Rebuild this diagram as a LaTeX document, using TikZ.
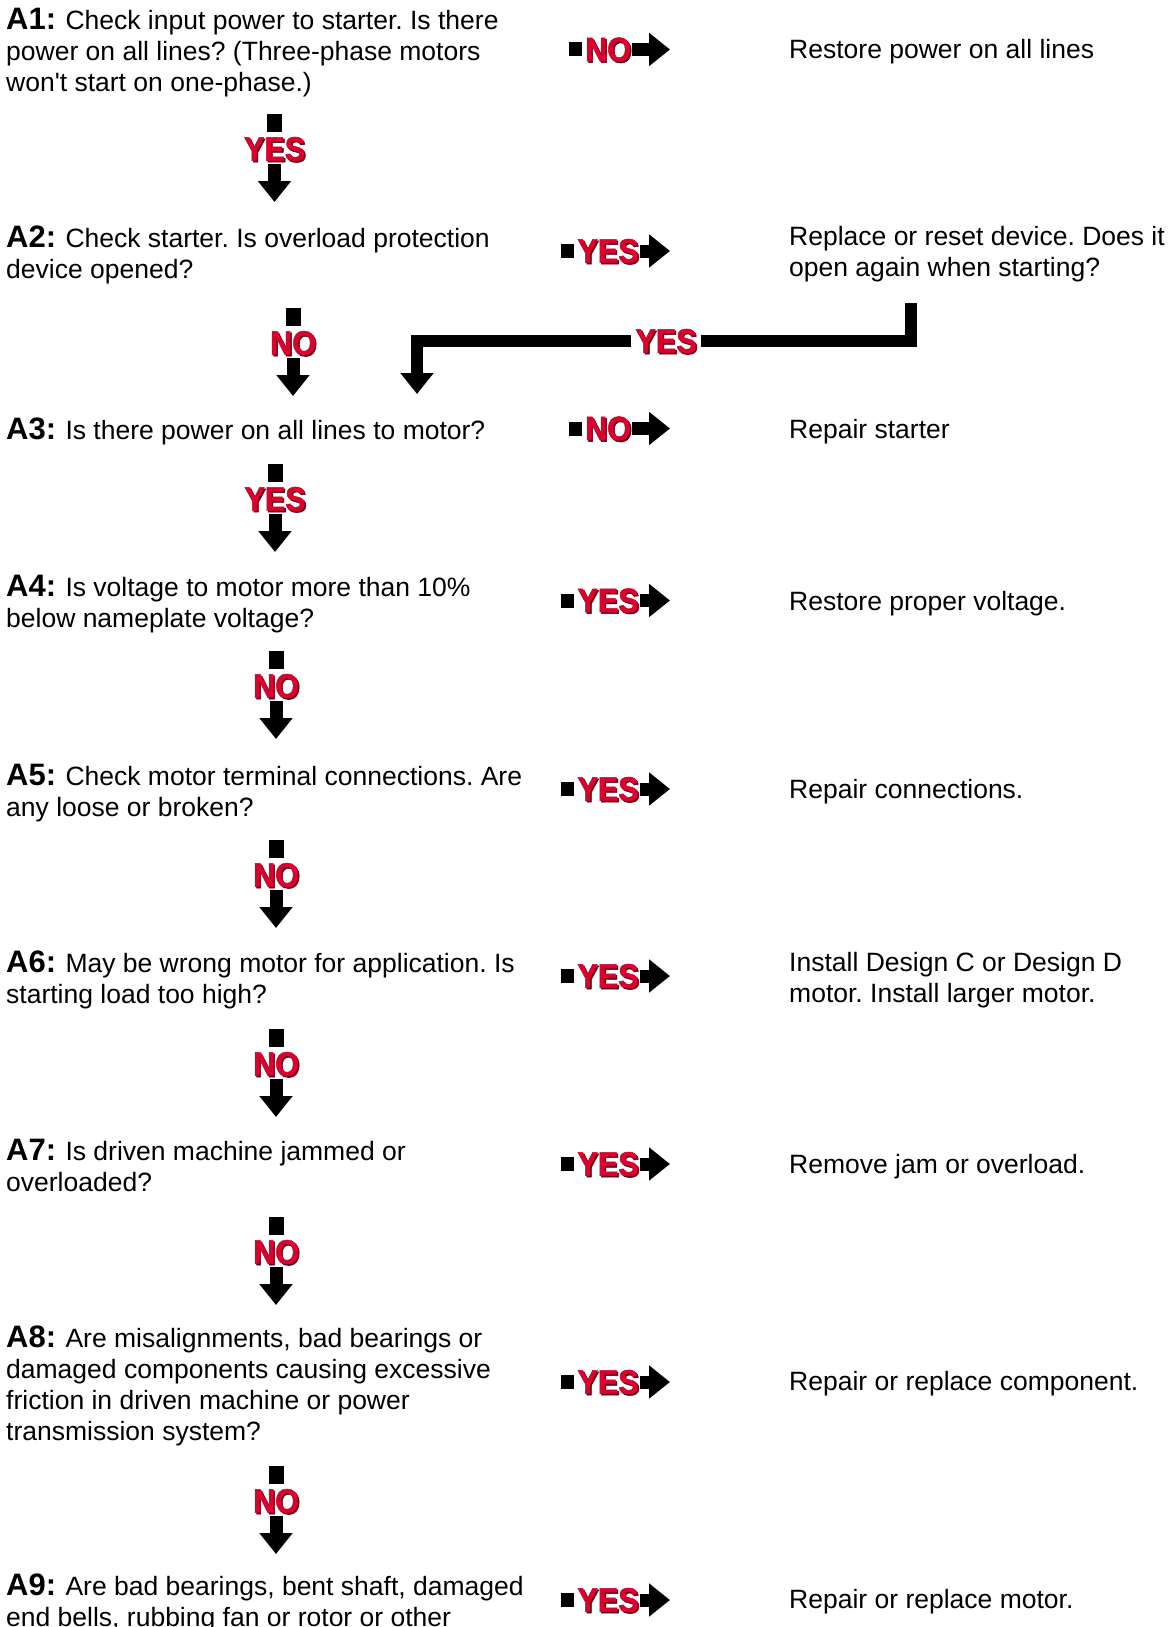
\documentclass[tikz,border=0pt]{standalone}
\usepackage{fontspec}
\setmainfont{Liberation Sans}
\newfontfamily\labfont{Liberation Sans}[FakeStretch=0.9,FakeBold=1.5]
\usetikzlibrary{arrows.meta}
\definecolor{signred}{RGB}{220,0,45}
\definecolor{signdark}{RGB}{80,0,25}
\frenchspacing
\newcommand{\qlab}[1]{\rule{0pt}{22pt}{\bfseries\fontsize{31}{31}\selectfont #1}\hspace{2pt}}
\newcommand{\topstrut}{\rule{0pt}{22pt}}
% side arrow: name, label, centre y
\newcommand{\rtarrow}[3]{%
  \node[labshadow] at (609.5,#3+1.5) {#2};
  \node[lab] (#1) at (608,#3) {#2};
  \fill ([xshift=-3pt,yshift=7pt]#1.west) rectangle ++(-13pt,-14pt);
  \coordinate (#1tip) at (670,#3);
  \draw[fat] ([xshift=1pt]#1.east) -- (#1tip);
}
% down arrow: name, label, centre x, top y
\newcommand{\dnarrow}[4]{%
  \fill (#3-7.5,#4) rectangle (#3+7.5,#4+18);
  \node[labshadow] at (#3+1.5,#4+36.5) {#2};
  \node[lab] (#1) at (#3,#4+35) {#2};
  \coordinate (#1tip) at (#3,#4+88);
  \draw[fat] ([yshift=-3pt]#1.south) -- (#1tip);
}
\begin{document}
\begin{tikzpicture}[x=1pt, y=-1pt,
    question/.style={anchor=north west, inner sep=0pt, align=left, font=\fontsize{26.5}{31}\selectfont},
    answer/.style={question},
    lab/.style={inner sep=0pt, text=signred, font=\labfont\bfseries\fontsize{34}{34}\selectfont},
    labshadow/.style={lab, text=signdark},
    fat/.style={line width=13pt, -{Triangle[width=32pt,length=21pt]}},
    fatline/.style={line width=12pt, line join=miter}
  ]
  \path[use as bounding box, clip] (0,0) rectangle (1170,1627);
  % Questions
  \node[question] (a1) at (6,7) {\qlab{A1:} Check input power to starter. Is there\\
    power on all lines? (Three-phase motors\\won\textquotesingle t start on one-phase.)};
  \node[question] (a2) at (6,225) {\qlab{A2:} Check starter. Is overload protection\\device opened?};
  \node[question] (a3) at (6,417) {\qlab{A3:} Is there power on all lines to motor?};
  \node[question] (a4) at (6,574) {\qlab{A4:} Is voltage to motor more than 10\%\\below nameplate voltage?};
  \node[question] (a5) at (6,763) {\qlab{A5:} Check motor terminal connections. Are\\any loose or broken?};
  \node[question] (a6) at (6,950) {\qlab{A6:} May be wrong motor for application. Is\\starting load too high?};
  \node[question] (a7) at (6,1138) {\qlab{A7:} Is driven machine jammed or\\overloaded?};
  \node[question] (a8) at (6,1325) {\qlab{A8:} Are misalignments, bad bearings or\\
    damaged components causing excessive\\friction in driven machine or power\\transmission system?};
  \node[question] (a9) at (6,1573) {\qlab{A9:} Are bad bearings, bent shaft, damaged\\end bells, rubbing fan or rotor or other};
  % Remedies
  \node[answer] (r1) at (789,36.5) {\topstrut Restore power on all lines};
  \node[answer] (r2) at (789,223) {\topstrut Replace or reset device. Does it\\open again when starting?};
  \node[answer] (r3) at (789,416.5) {\topstrut Repair starter};
  \node[answer] (r4) at (789,588) {\topstrut Restore proper voltage.};
  \node[answer] (r5) at (789,776) {\topstrut Repair connections.};
  \node[answer] (r6) at (789,949) {\topstrut Install Design C or Design D\\motor. Install larger motor.};
  \node[answer] (r7) at (789,1151) {\topstrut Remove jam or overload.};
  \node[answer] (r8) at (789,1368) {\topstrut Repair or replace component.};
  \node[answer] (r9) at (789,1586) {\topstrut Repair or replace motor.};
  % Arrows
  \rtarrow{side1}{NO}{49.5}
  \dnarrow{down1}{YES}{274.5}{114}
  \rtarrow{side2}{YES}{251}
  \dnarrow{down2}{NO}{293}{308}
  \rtarrow{side3}{NO}{428.5}
  \dnarrow{down3}{YES}{275}{464}
  \rtarrow{side4}{YES}{600.5}
  \dnarrow{down4}{NO}{276}{651}
  \rtarrow{side5}{YES}{789}
  \dnarrow{down5}{NO}{276}{840}
  \rtarrow{side6}{YES}{976}
  \dnarrow{down6}{NO}{276}{1029}
  \rtarrow{side7}{YES}{1164}
  \dnarrow{down7}{NO}{276}{1217}
  \rtarrow{side8}{YES}{1382}
  \dnarrow{down8}{NO}{276}{1466}
  \rtarrow{side9}{YES}{1600}
  % Loop back to A3
  \coordinate (loopstart) at (910.5,303);
  \coordinate (loopend) at (417,394);
  \node[labshadow] at (667.5,342.5) {YES};
  \node[lab] (yesloop) at (666,341) {YES};
  \draw[fatline] (loopstart) |- ([xshift=4pt]yesloop.east);
  \draw[fat, fatline] ([xshift=-4pt]yesloop.west) -| (loopend);
\end{tikzpicture}
\end{document}
